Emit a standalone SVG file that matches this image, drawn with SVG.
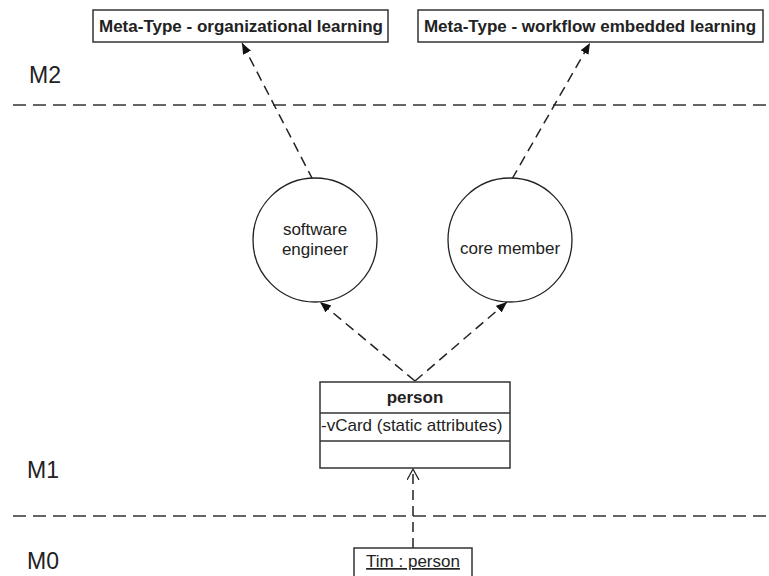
<svg xmlns="http://www.w3.org/2000/svg" width="769" height="576" viewBox="0 0 769 576">
<style>
.txt{font-family:"Liberation Sans",Arial,sans-serif;fill:#222}
.lvl{font-size:23px}
.bold{font-weight:bold;font-size:17px}
.reg{font-size:17px}
.box{fill:#fff;stroke:#333;stroke-width:1.5}
.circ{fill:#fff;stroke:#222;stroke-width:1.3}
.sep{stroke:#333;stroke-width:1.5;stroke-dasharray:13 7;fill:none}
.dep{stroke:#222;stroke-width:1.5;stroke-dasharray:10 6;fill:none}
</style>
<defs>
<marker id="filled" markerUnits="userSpaceOnUse" markerWidth="12" markerHeight="10" refX="11" refY="4.5" orient="auto">
<path d="M0,0 L11,4.5 L0,9 z" fill="#111"/>
</marker>
<marker id="open" markerUnits="userSpaceOnUse" markerWidth="14" markerHeight="14" refX="11" refY="6" orient="auto">
<path d="M0,0 L11,6 L0,12" fill="none" stroke="#222" stroke-width="1.3"/>
</marker>
</defs>
<rect width="769" height="576" fill="#fff"/>

<g id="levels">
<line class="sep" x1="13" y1="105" x2="769" y2="105"/>
<line class="sep" x1="13" y1="516" x2="769" y2="516"/>
<text class="txt lvl" x="29" y="83">M2</text>
<text class="txt lvl" x="27" y="478">M1</text>
<text class="txt lvl" x="27" y="569">M0</text>
</g>

<g id="connectors">
<line class="dep" x1="313" y1="180" x2="242" y2="43" marker-end="url(#filled)"/>
<line class="dep" x1="512" y1="179" x2="590" y2="43" marker-end="url(#filled)"/>
<line class="dep" x1="415" y1="381" x2="320" y2="302" marker-end="url(#filled)"/>
<line class="dep" x1="415" y1="381" x2="507" y2="302" marker-end="url(#filled)"/>
<line class="dep" x1="413" y1="548" x2="413" y2="469" marker-end="url(#open)"/>
</g>

<g id="meta-org">
<rect class="box" x="93" y="10" width="295" height="32"/>
<text class="txt bold" x="241" y="32" text-anchor="middle">Meta-Type - organizational learning</text>
</g>

<g id="meta-workflow">
<rect class="box" x="418" y="10" width="345" height="32"/>
<text class="txt bold" x="590" y="32" text-anchor="middle">Meta-Type - workflow embedded learning</text>
</g>

<g id="software-engineer">
<circle class="circ" cx="315" cy="240" r="62"/>
<text class="txt reg" x="315" y="235" text-anchor="middle">software</text>
<text class="txt reg" x="315" y="255" text-anchor="middle">engineer</text>
</g>

<g id="core-member">
<circle class="circ" cx="510" cy="240" r="62"/>
<text class="txt reg" x="510" y="254" text-anchor="middle">core member</text>
</g>

<g id="person">
<rect class="box" x="320" y="382" width="190" height="86"/>
<line stroke="#333" stroke-width="1.5" x1="320" y1="413" x2="510" y2="413"/>
<line stroke="#333" stroke-width="1.5" x1="320" y1="441" x2="510" y2="441"/>
<text class="txt bold" x="415" y="403" text-anchor="middle">person</text>
<text class="txt reg" x="321" y="431">-vCard (static attributes)</text>
</g>

<g id="tim">
<rect class="box" x="354" y="548" width="118" height="40"/>
<text class="txt reg" x="413" y="567" text-anchor="middle" text-decoration="underline">Tim : person</text>
</g>
</svg>
